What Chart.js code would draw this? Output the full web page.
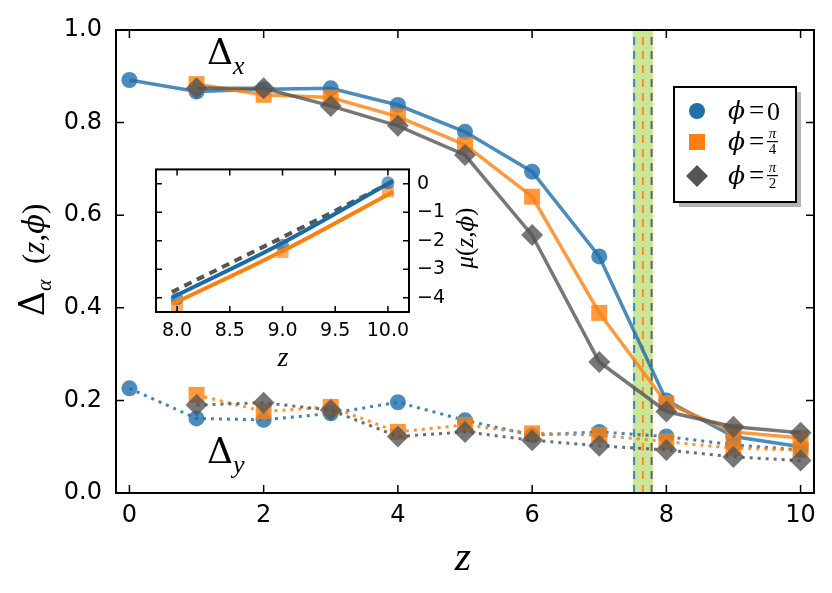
<!DOCTYPE html>
<html>
<head>
<meta charset="utf-8">
<script src="https://cdn.jsdelivr.net/npm/chart.js@4.4.1/dist/chart.umd.min.js"></script>
<style>
html, body { margin: 0; padding: 0; background: #fff; }
#wrap { position: relative; width: 832px; height: 593px; }
#main { position: absolute; left: 0; top: 0; }
#inset { position: absolute; left: 140px; top: 150px; }
</style>
</head>
<body>
<div id="wrap">
  <canvas id="main" width="832" height="593" style="width:832px;height:593px"></canvas>
  <canvas id="inset" width="350" height="240" style="width:350px;height:240px"></canvas>
</div>
<script>
// ---- data ----
const zAll = [0, 1, 2, 3, 4, 5, 6, 7, 8, 9, 10];
const zFrom1 = [1, 2, 3, 4, 5, 6, 7, 8, 9, 10];

const deltaXPhi0 = [0.892, 0.867, 0.872, 0.874, 0.838, 0.780, 0.694, 0.511, 0.200, 0.122, 0.100];
const deltaXPhi4 = [0.883, 0.860, 0.854, 0.813, 0.752, 0.640, 0.389, 0.194, 0.132, 0.119];
const deltaXPhi2 = [0.874, 0.874, 0.836, 0.793, 0.730, 0.557, 0.283, 0.176, 0.143, 0.130];

const deltaYPhi0 = [0.226, 0.161, 0.158, 0.172, 0.196, 0.157, 0.125, 0.132, 0.122, 0.104, 0.093];
const deltaYPhi4 = [0.212, 0.176, 0.186, 0.132, 0.147, 0.129, 0.125, 0.111, 0.097, 0.093];
const deltaYPhi2 = [0.190, 0.195, 0.179, 0.122, 0.132, 0.114, 0.102, 0.093, 0.078, 0.070];

const xTicks = [0, 2, 4, 6, 8, 10];
const yTicks = [0, 0.2, 0.4, 0.6, 0.8, 1.0];

// critical region
const bandZ = [7.5, 7.8];
const critZ = [7.52, 7.65, 7.78];

// inset mu(z, phi)
const insetZ = [8, 9, 10];
const muPhi0 = [-4.03, -2.16, 0.03];
const muPhi4 = [-4.27, -2.40, -0.27];
const fitZ = [7.95, 9, 10.05];
const fitPhi0 = [-4.0, -2.08, 0.1];
const fitPhi4 = [-4.23, -2.36, -0.28];
const fitPhi2 = [-3.8, -1.88, 0.08];
const insetXTicks = [8, 8.5, 9, 9.5, 10];
const insetYTicks = [0, -1, -2, -3, -4];

// ---- colours ----
const BLUE = "#1f6fab";
const ORANGE = "#ff7f0e";
const GRAY = "#555555";
const critColors = ["#3a86bd", "#ff8c1a", "#666666"];

const SERIF = "'DejaVu Serif'";
const ITAL = "'Liberation Serif'";

function pts(xs, ys) {
    return xs.map((x, i) => ({ x: x, y: ys[i] }));
}

function rgba(hex, a) {
    const n = parseInt(hex.slice(1), 16);
    return `rgba(${n >> 16},${(n >> 8) & 255},${n & 255},${a})`;
}

function series(xs, ys, color, style, radius, dotted, order) {
    return {
        data: pts(xs, ys),
        borderColor: rgba(color, dotted ? 0.85 : 0.8),
        backgroundColor: rgba(color, 0.8),
        pointBackgroundColor: rgba(color, 0.8),
        pointBorderWidth: 0,
        pointStyle: style,
        pointRadius: radius,
        borderWidth: dotted ? 3 : 3.5,
        borderDash: dotted ? [3, 5] : [],
        tension: 0,
        order: order
    };
}

// draw a row of text pieces: [text, font, dy]
function drawRuns(ctx, x, y, runs, center) {
    ctx.save();
    ctx.textBaseline = "alphabetic";
    ctx.textAlign = "left";
    ctx.fillStyle = "#000";
    let w = 0;
    runs.forEach(r => { ctx.font = r[1]; w += ctx.measureText(r[0]).width; });
    let cx = center ? x - w / 2 : x;
    runs.forEach(r => {
        ctx.font = r[1];
        ctx.fillText(r[0], cx, y + (r[2] || 0));
        cx += ctx.measureText(r[0]).width;
    });
    ctx.restore();
}

function drawFrame(chart, len) {
    const { ctx, chartArea: a, scales } = chart;
    const xs = scales.x, ys = scales.y;
    ctx.save();
    ctx.strokeStyle = "#000";
    ctx.lineWidth = 1.5;
    ctx.beginPath();
    xs.ticks.forEach(t => {
        const px = xs.getPixelForValue(t.value);
        ctx.moveTo(px, a.bottom); ctx.lineTo(px, a.bottom - len);
        ctx.moveTo(px, a.top); ctx.lineTo(px, a.top + len);
    });
    ys.ticks.forEach(t => {
        const py = ys.getPixelForValue(t.value);
        ctx.moveTo(a.left, py); ctx.lineTo(a.left + len, py);
        ctx.moveTo(a.right, py); ctx.lineTo(a.right - len, py);
    });
    ctx.stroke();
    ctx.lineWidth = 2;
    ctx.strokeRect(a.left, a.top, a.right - a.left, a.bottom - a.top);
    ctx.restore();
}

// ---- main chart plugins ----
const bandPlugin = {
    id: "band",
    beforeDatasetsDraw(chart) {
        const { ctx, chartArea: a, scales: { x } } = chart;
        ctx.save();
        ctx.fillStyle = "rgba(154,205,50,0.5)";
        const x0 = x.getPixelForValue(bandZ[0]);
        const x1 = x.getPixelForValue(bandZ[1]);
        ctx.fillRect(x0, a.top, x1 - x0, a.bottom - a.top);
        ctx.lineWidth = 2;
        ctx.setLineDash([8, 6]);
        critZ.forEach((z, i) => {
            const px = x.getPixelForValue(z);
            ctx.strokeStyle = critColors[i];
            ctx.beginPath();
            ctx.moveTo(px, a.bottom);
            ctx.lineTo(px, a.top);
            ctx.stroke();
        });
        ctx.restore();
    }
};

const mainDecor = {
    id: "mainDecor",
    afterDraw(chart) {
        const ctx = chart.ctx;
        drawFrame(chart, 8);

        // curve labels
        drawRuns(ctx, 207, 64, [["Δ", "36px " + SERIF], ["x", "italic 26px " + ITAL, 10]]);
        drawRuns(ctx, 207, 463, [["Δ", "36px " + SERIF], ["y", "italic 26px " + ITAL, 10]]);

        // axis titles
        drawRuns(ctx, 463, 570, [["z", "italic 42px " + ITAL]], true);
        ctx.save();
        ctx.translate(44, 260);
        ctx.rotate(-Math.PI / 2);
        drawRuns(ctx, 0, 0, [
            ["Δ", "35px " + SERIF],
            ["α", "italic 22px " + ITAL, 7],
            ["  (", "31px " + ITAL],
            ["z", "italic 31px " + ITAL],
            [",", "31px " + ITAL],
            ["ϕ", "italic 29px " + SERIF],
            [")", "31px " + ITAL]
        ], true);
        ctx.restore();

        // legend with shadow
        const lx = 674, ly = 87, lw = 122, lh = 115;
        ctx.save();
        ctx.fillStyle = "#b3b3b3";
        ctx.fillRect(lx + 5, ly + 5, lw, lh);
        ctx.fillStyle = "#fff";
        ctx.fillRect(lx, ly, lw, lh);
        ctx.strokeStyle = "#000";
        ctx.lineWidth = 2;
        ctx.strokeRect(lx, ly, lw, lh);

        const rows = [111, 142, 176];
        // circle
        ctx.fillStyle = BLUE;
        ctx.beginPath(); ctx.arc(697, rows[0], 8, 0, Math.PI * 2); ctx.fill();
        // square
        ctx.fillStyle = ORANGE;
        ctx.fillRect(689, rows[1] - 8, 16, 16);
        // diamond
        ctx.fillStyle = GRAY;
        ctx.beginPath();
        ctx.moveTo(697, rows[2] - 11); ctx.lineTo(708, rows[2]);
        ctx.lineTo(697, rows[2] + 11); ctx.lineTo(686, rows[2]);
        ctx.closePath(); ctx.fill();
        ctx.restore();

        const labelFont = "26px " + ITAL;
        rows.forEach((ry, i) => {
            drawRuns(ctx, 728, ry + 8, [["ϕ", "italic 25px " + SERIF]]);
            drawRuns(ctx, 749, ry + 8, [["=", "27px " + ITAL]]);
            if (i === 0) {
                drawRuns(ctx, 767, ry + 9, [["0", labelFont]]);
            } else {
                const den = i === 1 ? "4" : "2";
                ctx.save();
                ctx.fillStyle = "#000";
                ctx.fillRect(767, ry - 1, 11, 1.2);
                ctx.restore();
                drawRuns(ctx, 772.5, ry - 4, [["π", "italic 15px " + ITAL]], true);
                drawRuns(ctx, 772.5, ry + 12, [[den, "15px " + ITAL]], true);
            }
        });
    }
};

new Chart(document.getElementById("main"), {
    type: "line",
    data: {
        datasets: [
            series(zAll, deltaXPhi0, BLUE, "circle", 8, false, 3),
            series(zFrom1, deltaXPhi4, ORANGE, "rect", 11.3, false, 2),
            series(zFrom1, deltaXPhi2, GRAY, "rectRot", 11, false, 1),
            series(zAll, deltaYPhi0, BLUE, "circle", 8, true, 3),
            series(zFrom1, deltaYPhi4, ORANGE, "rect", 11.3, true, 2),
            series(zFrom1, deltaYPhi2, GRAY, "rectRot", 11, true, 1)
        ]
    },
    options: {
        responsive: false,
        animation: false,
        layout: { padding: { top: 30, right: 18, left: 0, bottom: 0 } },
        plugins: { legend: { display: false }, tooltip: { enabled: false } },
        scales: {
            x: {
                type: "linear",
                min: -0.2,
                max: 10.2,
                afterBuildTicks: s => { s.ticks = xTicks.map(v => ({ value: v })); },
                afterFit: s => { s.height = 100; },
                grid: { display: false, drawTicks: false },
                border: { display: false },
                ticks: {
                    color: "#000",
                    padding: 8,
                    maxRotation: 0,
                    autoSkip: false,
                    font: { family: "DejaVu Sans", size: 24 },
                    callback: v => String(v)
                }
            },
            y: {
                min: 0,
                max: 1,
                afterBuildTicks: s => { s.ticks = yTicks.map(v => ({ value: v })); },
                afterFit: s => { s.width = 116; },
                grid: { display: false, drawTicks: false },
                border: { display: false },
                ticks: {
                    color: "#000",
                    padding: 14,
                    autoSkip: false,
                    font: { family: "DejaVu Sans", size: 24 },
                    callback: v => v.toFixed(1)
                }
            }
        }
    },
    plugins: [bandPlugin, mainDecor]
});

// ---- inset ----
const insetDecor = {
    id: "insetDecor",
    beforeDraw(chart) {
        const { ctx, chartArea: a } = chart;
        ctx.save();
        ctx.fillStyle = "#fff";
        ctx.fillRect(a.left, a.top, a.right - a.left, a.bottom - a.top);
        ctx.restore();
    },
    afterDraw(chart) {
        const ctx = chart.ctx;
        drawFrame(chart, 6);
        drawRuns(ctx, 143, 216, [["z", "italic 28px " + ITAL]], true);
        ctx.save();
        ctx.translate(333, 88);
        ctx.rotate(-Math.PI / 2);
        drawRuns(ctx, 0, 0, [
            ["μ", "italic 25px " + ITAL],
            ["(", "25px " + ITAL],
            ["z", "italic 25px " + ITAL],
            [",", "25px " + ITAL],
            ["ϕ", "italic 23px " + SERIF],
            [")", "25px " + ITAL]
        ], true);
        ctx.restore();
    }
};

function fitLine(ys, color, dash, order) {
    return {
        data: pts(fitZ, ys),
        borderColor: color,
        borderWidth: 4,
        borderDash: dash,
        pointRadius: 0,
        cubicInterpolationMode: "monotone",
        order: order
    };
}

function insetPoints(ys, color, style, radius) {
    return {
        data: pts(insetZ, ys),
        showLine: false,
        pointStyle: style,
        pointRadius: radius,
        pointBorderWidth: 0,
        pointBackgroundColor: rgba(color, 0.65),
        order: 5
    };
}

new Chart(document.getElementById("inset"), {
    type: "line",
    data: {
        datasets: [
            fitLine(fitPhi2, "#555555", [8, 6], 3),
            fitLine(fitPhi0, "#1a6aa5", [], 1),
            fitLine(fitPhi4, ORANGE, [], 2),
            insetPoints(muPhi0, BLUE, "circle", 6.5),
            insetPoints(muPhi4, ORANGE, "rect", 8.5)
        ]
    },
    options: {
        responsive: false,
        animation: false,
        layout: { padding: { top: 11, left: 16, right: 0, bottom: 0 } },
        plugins: { legend: { display: false }, tooltip: { enabled: false } },
        scales: {
            x: {
                type: "linear",
                min: 7.8,
                max: 10.2,
                afterBuildTicks: s => { s.ticks = insetXTicks.map(v => ({ value: v })); },
                afterFit: s => { s.height = 78; },
                grid: { display: false, drawTicks: false },
                border: { display: false },
                ticks: {
                    color: "#000",
                    padding: 8,
                    maxRotation: 0,
                    autoSkip: false,
                    font: { family: "DejaVu Sans", size: 19 },
                    callback: v => v.toFixed(1)
                }
            },
            y: {
                position: "right",
                min: -4.5,
                max: 0.5,
                afterBuildTicks: s => { s.ticks = insetYTicks.map(v => ({ value: v })); },
                afterFit: s => { s.width = 81; },
                grid: { display: false, drawTicks: false },
                border: { display: false },
                ticks: {
                    color: "#000",
                    padding: 8,
                    autoSkip: false,
                    font: { family: "DejaVu Sans", size: 19 },
                    callback: v => v === 0 ? "0" : "\u2212" + Math.abs(v)
                }
            }
        }
    },
    plugins: [insetDecor]
});
</script>
</body>
</html>
